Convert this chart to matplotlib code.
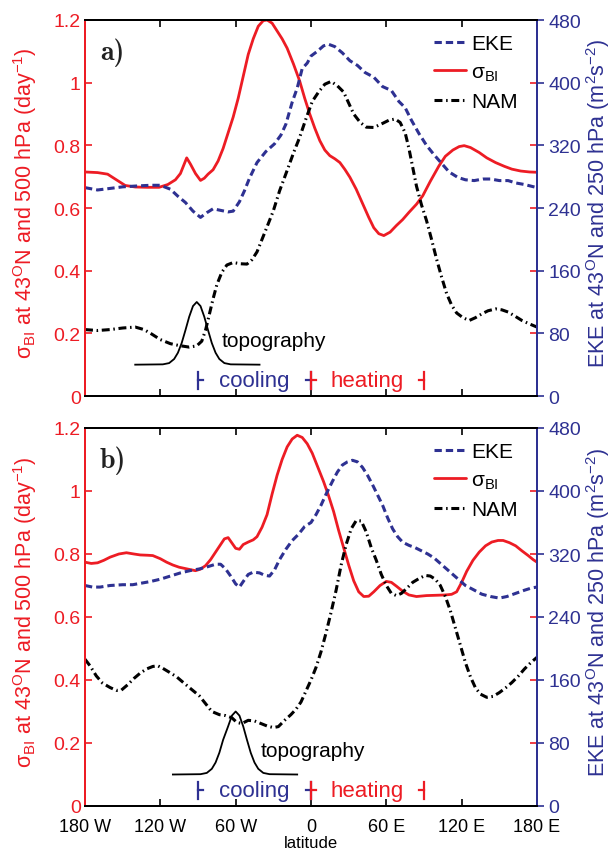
import matplotlib
matplotlib.use("Agg")
import matplotlib.pyplot as plt

plt.rcParams['font.family'] = ['Liberation Sans', 'DejaVu Sans']
plt.rcParams['mathtext.fontset'] = 'custom'
plt.rcParams['mathtext.rm'] = 'Liberation Sans'
plt.rcParams['mathtext.it'] = 'Liberation Sans:italic'
plt.rcParams['mathtext.bf'] = 'Liberation Sans:bold'

RED = '#ED1C24'
NAVY = '#2E3192'

# ---------------- panel a ----------------
a_sig_lon = [-180, -170, -162, -155, -148, -140, -130, -121, -114, -108, -104, -101, -99, -96, -92, -88,
             -85, -82, -78, -74, -70, -66, -62, -58, -54, -50, -46, -42, -38, -35, -31, -27, -23, -19,
             -14, -9, -5, -1, 3, 7, 11, 15, 19, 23, 27, 31, 36, 41, 46, 50, 54, 58, 63, 68, 73, 78, 84,
             89, 95, 102, 107, 113, 118, 122, 127, 134, 140, 147, 154, 160, 167, 174, 180]
a_sig = [0.715, 0.713, 0.708, 0.69, 0.672, 0.667, 0.666, 0.666, 0.675, 0.69, 0.71, 0.74, 0.76, 0.74, 0.71,
         0.688, 0.695, 0.708, 0.722, 0.75, 0.79, 0.84, 0.89, 0.95, 1.02, 1.09, 1.14, 1.18, 1.198, 1.2,
         1.19, 1.165, 1.14, 1.11, 1.06, 1.005, 0.95, 0.9, 0.855, 0.815, 0.785, 0.767, 0.757, 0.745,
         0.723, 0.698, 0.66, 0.615, 0.57, 0.537, 0.518, 0.512, 0.523, 0.544, 0.563, 0.586, 0.612, 0.639,
         0.685, 0.735, 0.765, 0.785, 0.796, 0.799, 0.793, 0.777, 0.76, 0.745, 0.733, 0.724, 0.718,
         0.715, 0.714]

a_eke_lon = [-180, -170, -160, -150, -140, -128, -120, -112, -106, -100, -94, -88, -83, -78, -72, -66,
             -62, -57, -53, -49, -43, -36, -29, -24, -20, -15, -11, -7, -3, 0, 5, 10, 14, 19, 25, 31,
             37, 43, 50, 57, 64, 70, 75, 80, 86, 92, 98, 104, 110, 117, 123, 130, 137, 143, 150, 157,
             163, 170, 175, 180]
a_eke = [266, 263, 265, 267, 268, 269, 269, 264, 255, 247, 236, 228, 234, 239, 237, 235, 236, 248, 262,
         278, 298, 312, 322, 333, 347, 375, 393, 418, 425, 434, 440, 447, 449, 446, 438, 428, 422, 413,
         407, 395, 390, 376, 368, 352, 335, 320, 308, 297, 286, 279, 276, 275, 277, 277, 275, 275, 272,
         270, 268, 266]

a_nam_lon = [-180, -170, -160, -150, -140, -133, -127, -120, -112, -105, -97, -91, -87, -84, -81, -78,
             -75, -71, -67, -62, -56, -51, -47, -43, -39, -35, -30, -25, -19, -14, -9, -4, 1, 6, 11, 16,
             21, 26, 30, 34, 39, 44, 50, 56, 62, 67, 71, 75, 78, 81, 84, 88, 92, 96, 100, 104, 108, 112,
             116, 121, 126, 131, 136, 141, 147, 152, 157, 162, 168, 174, 180]
a_nam = [0.212, 0.209, 0.212, 0.217, 0.22, 0.212, 0.198, 0.18, 0.167, 0.161, 0.156, 0.16, 0.175, 0.21,
         0.26, 0.31, 0.355, 0.395, 0.418, 0.426, 0.422, 0.421, 0.435, 0.46, 0.5, 0.54, 0.591, 0.655,
         0.72, 0.775, 0.826, 0.885, 0.94, 0.97, 0.995, 1.004, 0.99, 0.97, 0.935, 0.9, 0.874, 0.858,
         0.857, 0.868, 0.88, 0.884, 0.873, 0.84, 0.79, 0.73, 0.67, 0.61, 0.56, 0.5, 0.437, 0.38, 0.327,
         0.29, 0.265, 0.25, 0.241, 0.25, 0.262, 0.272, 0.278, 0.275, 0.268, 0.256, 0.241, 0.23, 0.22]

a_topo_lon = [-140, -118, -113, -109, -106, -103, -100, -97, -94, -91, -88, -85, -82, -79, -76, -73,
              -69, -64, -41]
a_topo = [0.100, 0.101, 0.105, 0.118, 0.138, 0.169, 0.21, 0.253, 0.287, 0.30, 0.287, 0.253, 0.21,
          0.169, 0.138, 0.118, 0.105, 0.101, 0.100]

# ---------------- panel b ----------------
b_sig_lon = [-180, -175, -170, -165, -160, -153, -147, -141, -136, -130, -126, -120, -115, -110, -105,
             -98, -92, -88, -84, -80, -76, -72, -69, -66, -63, -60, -57, -54, -50, -46, -43, -39, -35,
             -31, -27, -23, -19, -15, -11, -7, -3, 1, 5, 10, 14, 18, 22, 26, 30, 34, 38, 42, 46, 50, 55,
             60, 64, 68, 73, 78, 84, 92, 100, 107, 112, 116, 120, 124, 129, 134, 139, 144, 149, 153, 158,
             163, 168, 173, 177, 180]
b_sig = [0.774, 0.77, 0.772, 0.78, 0.79, 0.8, 0.804, 0.8, 0.797, 0.796, 0.795, 0.785, 0.774, 0.765,
         0.758, 0.752, 0.747, 0.752, 0.763, 0.782, 0.806, 0.83, 0.848, 0.852, 0.835, 0.818, 0.815, 0.83,
         0.838, 0.845, 0.855, 0.885, 0.925, 0.99, 1.05, 1.1, 1.14, 1.165, 1.177, 1.17, 1.15, 1.12, 1.08,
         1.03, 0.985, 0.935, 0.875, 0.82, 0.765, 0.715, 0.68, 0.665, 0.666, 0.68, 0.7, 0.713, 0.71,
         0.698, 0.682, 0.67, 0.665, 0.668, 0.669, 0.67, 0.672, 0.68, 0.71, 0.745, 0.78, 0.806, 0.826,
         0.838, 0.843, 0.843, 0.836, 0.826, 0.81, 0.795, 0.782, 0.774]

b_eke_lon = [-180, -174, -168, -160, -150, -142, -135, -128, -120, -112, -104, -96, -89, -82, -76, -72,
             -68, -64, -60, -57, -54, -50, -46, -41, -37, -33, -29, -25, -20, -15, -10, -5, 0, 4, 8, 12,
             17, 21, 25, 29, 33, 37, 41, 45, 49, 53, 57, 61, 65, 69, 73, 78, 83, 88, 93, 98, 103, 108,
             113, 118, 123, 129, 136, 143, 150, 156, 163, 170, 176, 180]
b_eke = [280, 278, 278, 280, 281, 281, 283, 285, 288, 292, 296, 299, 301, 304, 307, 307, 301, 292, 282,
         278, 285, 294, 297, 296, 293, 292, 300, 313, 326, 337, 345, 355, 360, 370, 382, 396, 412, 424,
         433, 437, 439, 437, 430, 420, 408, 395, 382, 366, 352, 342, 335, 331, 328, 324, 320, 315, 308,
         301, 294, 287, 280, 275, 269, 266, 264, 266, 270, 274, 277, 278]

b_nam_lon = [-180, -176, -171, -166, -160, -155, -151, -146, -141, -136, -131, -126, -122, -118, -113,
             -107, -102, -96, -89, -84, -79, -73, -68, -63, -59, -55, -50, -45, -40, -35, -30, -26, -21,
             -16, -12, -8, -4, 0, 4, 8, 12, 16, 20, 24, 28, 32, 36, 40, 44, 48, 52, 56, 60, 64, 68, 72,
             76, 81, 86, 91, 95, 99, 103, 107, 111, 115, 119, 123, 127, 131, 135, 140, 145, 150, 155,
             160, 165, 170, 175, 180]
b_nam = [0.466, 0.445, 0.413, 0.39, 0.376, 0.367, 0.368, 0.385, 0.405, 0.422, 0.435, 0.443, 0.445,
         0.437, 0.425, 0.41, 0.393, 0.373, 0.35, 0.325, 0.3, 0.29, 0.287, 0.28, 0.265, 0.262, 0.272,
         0.27, 0.262, 0.254, 0.249, 0.252, 0.272, 0.29, 0.307, 0.33, 0.365, 0.4, 0.44, 0.49, 0.55,
         0.615, 0.685, 0.765, 0.83, 0.88, 0.906, 0.905, 0.87, 0.82, 0.78, 0.735, 0.7, 0.675, 0.668,
         0.675, 0.69, 0.71, 0.722, 0.732, 0.73, 0.72, 0.7, 0.665, 0.62, 0.565, 0.51, 0.455, 0.41, 0.375,
         0.355, 0.345, 0.348, 0.36, 0.375, 0.392, 0.412, 0.435, 0.455, 0.472]

b_topo_lon = [-110, -88, -83, -79, -76, -73, -70, -66, -63, -60, -57, -54, -51, -48, -45, -42, -38,
              -33, -11]
b_topo = [0.100, 0.101, 0.105, 0.118, 0.138, 0.169, 0.21, 0.253, 0.287, 0.30, 0.287, 0.253, 0.21,
          0.169, 0.138, 0.118, 0.105, 0.101, 0.100]

# ---------------- axis settings ----------------
lon_ticks = [-180, -120, -60, 0, 60, 120, 180]
lon_labels = ['180 W', '120 W', '60 W', '0', '60 E', '120 E', '180 E']
sig_ticks = [0, 0.2, 0.4, 0.6, 0.8, 1.0, 1.2]
sig_labels = ['0', '0.2', '0.4', '0.6', '0.8', '1', '1.2']
eke_ticks = [0, 80, 160, 240, 320, 400, 480]
cooling_range = (-90, 0)
heating_range = (0, 90)

SIG_LABEL = 'σ$_{\\rm BI}$ at 43$^{\\rm O}$N and 500 hPa (day$^{-1}$)'
EKE_LABEL = 'EKE at 43$^{\\rm O}$N and 250 hPa (m$^{2}$s$^{-2}$)'

W, H = 612, 853
fig = plt.figure(figsize=(W / 100, H / 100), dpi=100)


def draw_panel(top_px, bot_px, tag, sig_lon, sig, eke_lon, eke, nam_lon, nam, topo_lon, topo, bottom):
    ax = fig.add_axes([85 / W, 1 - bot_px / H, 452 / W, (bot_px - top_px) / H])
    ax2 = ax.twinx()

    ax.set_xlim(-180, 180)
    ax.set_ylim(0, 1.2)
    ax2.set_ylim(0, 480)

    l_sig, = ax.plot(sig_lon, sig, color=RED, lw=2.0, solid_capstyle='round')
    l_nam, = ax.plot(nam_lon, nam, color='black', lw=2.2, linestyle=(0, (2.6, 1.2, 0.5, 1.2)))
    ax.plot(topo_lon, topo, color='black', lw=1.3)
    l_eke, = ax2.plot(eke_lon, eke, color=NAVY, lw=2.2, linestyle=(0, (2.4, 1.3)))

    # x axis
    ax.set_xticks(lon_ticks)
    if bottom:
        ax.set_xticklabels(lon_labels, fontsize=13)
        ax.set_xlabel('latitude', fontsize=12, labelpad=0)
    else:
        ax.set_xticklabels([])
    ax.tick_params(axis='x', direction='in', length=5, width=1.2, top=True, colors='black',
                   pad=9)

    # left axis (red)
    ax.set_yticks(sig_ticks)
    ax.set_yticklabels(sig_labels, fontsize=14, color=RED)
    ax.tick_params(axis='y', direction='in', length=5, width=1.2, color=RED, right=True, pad=3)

    # right axis (navy)
    ax2.set_yticks(eke_ticks)
    ax2.set_yticklabels([str(t) for t in eke_ticks], fontsize=14, color=NAVY)
    ax2.tick_params(axis='y', direction='out', length=5, width=1.2, color=NAVY, pad=3)

    ymid = 1 - ((top_px + bot_px) / 2 - 6) / H
    fig.text(25 / W, ymid, SIG_LABEL, color=RED, fontsize=15.5, rotation=90,
             ha='center', va='center')
    fig.text(598 / W, ymid, EKE_LABEL, color=NAVY, fontsize=15.5, rotation=90,
             ha='center', va='center')

    for a in (ax, ax2):
        a.spines['left'].set_color(RED)
        a.spines['right'].set_color(NAVY)
        a.spines['top'].set_color('black')
        a.spines['bottom'].set_color('black')
        for s in a.spines.values():
            s.set_linewidth(1.4)

    # topography annotation
    peak = topo_lon[topo.index(max(topo))]
    ax.text(peak + 20, 0.176, 'topography', fontsize=15, ha='left', va='center', color='black')

    # forcing brackets
    yb, hb, stub = 0.05, 0.027, 4
    for (x0, x1), col, word in ((cooling_range, NAVY, 'cooling'), (heating_range, RED, 'heating')):
        ax.plot([x0, x0], [yb - hb, yb + hb], color=col, lw=1.6)
        ax.plot([x1, x1], [yb - hb, yb + hb], color=col, lw=1.6)
        ax.plot([x0, x0 + stub], [yb, yb], color=col, lw=1.6)
        ax.plot([x1 - stub, x1], [yb, yb], color=col, lw=1.6)
        ax.text((x0 + x1) / 2, yb, word, fontsize=16, color=col, ha='center', va='center')

    # panel tag
    ax.text(0.033, 0.915, tag, transform=ax.transAxes, fontsize=20, family='cmb10',
            ha='left', va='center', color='#222222')

    ax2.legend([l_eke, l_sig, l_nam], ['EKE', 'σ$_{\\rm BI}$', 'NAM'], loc='upper right',
               bbox_to_anchor=(0.985, 0.995), frameon=False, fontsize=15, handlelength=1.55,
               handletextpad=0.25, labelspacing=0.45, borderaxespad=0.2)
    return ax, ax2


draw_panel(21, 397, 'a)', a_sig_lon, a_sig, a_eke_lon, a_eke,
           a_nam_lon, a_nam, a_topo_lon, a_topo, bottom=False)
draw_panel(429, 807, 'b)', b_sig_lon, b_sig, b_eke_lon, b_eke,
           b_nam_lon, b_nam, b_topo_lon, b_topo, bottom=True)

fig.savefig('out.png', dpi=100)
